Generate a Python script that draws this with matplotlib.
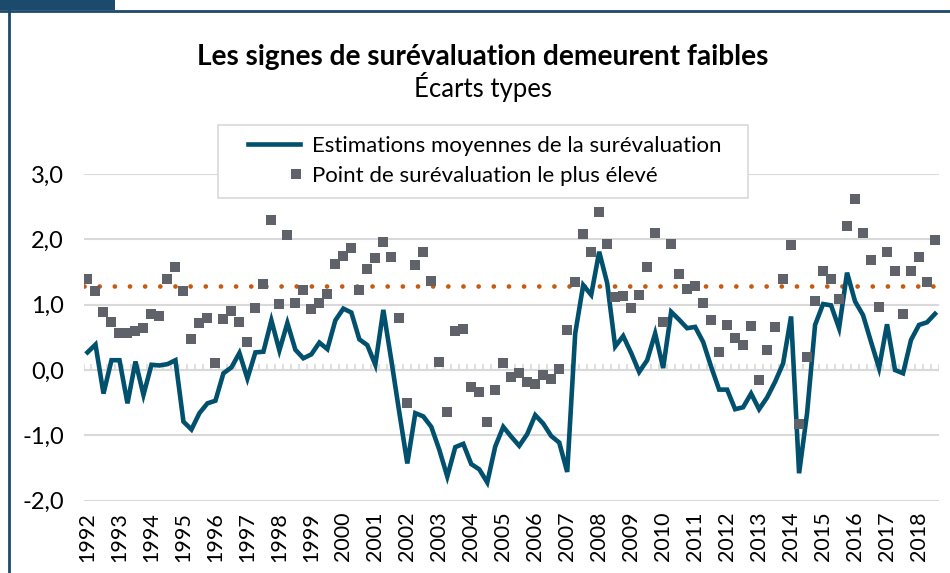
import numpy as np
import matplotlib
matplotlib.use('Agg')
from matplotlib import pyplot as plt
from matplotlib.lines import Line2D
from matplotlib.patches import Rectangle
from matplotlib.legend_handler import HandlerBase

plt.rcParams['font.family'] = ['Lato', 'DejaVu Sans']

# trimestres 1992T1 - 2018T3
quarters = ['%dT%d' % (y, q) for y in range(1992, 2019) for q in range(1, 5)][:107]
year_labels = [str(y) for y in range(1992, 2019)]

# estimations moyennes de la surévaluation (écarts types)
moyenne = [0.27, 0.39, -0.36, 0.15, 0.15, -0.51, 0.13, -0.38, 0.08, 0.07,
           0.09, 0.15, -0.79, -0.91, -0.66, -0.51, -0.47, -0.05, 0.04, 0.26,
           -0.13, 0.27, 0.28, 0.76, 0.30, 0.72, 0.31, 0.18, 0.24, 0.42,
           0.32, 0.76, 0.94, 0.88, 0.47, 0.38, 0.08, 0.92, 0.15, -0.65,
           -1.43, -0.66, -0.71, -0.87, -1.22, -1.63, -1.18, -1.13, -1.44, -1.52,
           -1.72, -1.17, -0.87, -1.02, -1.16, -0.98, -0.69, -0.82, -1.01, -1.11,
           -1.56, 0.56, 1.30, 1.15, 1.81, 1.33, 0.36, 0.52, 0.26, -0.03,
           0.15, 0.56, 0.03, 0.89, 0.77, 0.64, 0.66, 0.43, 0.05, -0.30,
           -0.30, -0.60, -0.57, -0.36, -0.60, -0.42, -0.18, 0.10, 0.82, -1.58,
           -0.66, 0.69, 1.01, 0.99, 0.64, 1.49, 1.05, 0.84, 0.43, 0.03,
           0.70, 0.00, -0.05, 0.46, 0.69, 0.73, 0.86]

# point de surévaluation le plus élevé
maximum = [1.39, 1.21, 0.89, 0.74, 0.56, 0.56, 0.59, 0.65, 0.86, 0.82,
           1.39, 1.57, 1.21, 0.48, 0.72, 0.80, 0.10, 0.78, 0.91, 0.74,
           0.43, 0.95, 1.32, 2.30, 1.01, 2.07, 1.03, 1.23, 0.93, 1.03,
           1.17, 1.63, 1.75, 1.86, 1.23, 1.55, 1.72, 1.96, 1.73, 0.80,
           -0.50, 1.60, 1.80, 1.37, 0.13, -0.65, 0.59, 0.63, -0.26, -0.33,
           -0.79, -0.31, 0.10, -0.10, -0.04, -0.19, -0.21, -0.08, -0.13, 0.01,
           0.61, 1.35, 2.08, 1.80, 2.42, 1.93, 1.11, 1.14, 0.95, 1.15,
           1.57, 2.10, 0.74, 1.93, 1.47, 1.24, 1.28, 1.03, 0.76, 0.28,
           0.69, 0.49, 0.39, 0.68, -0.16, 0.30, 0.66, 1.39, 1.91, -0.82,
           0.20, 1.05, 1.52, 1.39, 1.09, 2.21, 2.62, 2.09, 1.69, 0.97,
           1.81, 1.51, 0.86, 1.52, 1.73, 1.34, 1.99]

seuil = 1.28
y_ticks = [-2, -1, 0, 1, 2, 3]
y_labels = ['-2,0', '-1,0', '0,0', '1,0', '2,0', '3,0']

navy = '#1c4a6c'
teal = '#00506e'
grey = '#5f6369'
orange = '#c55a11'
grid_c = '#d9d9d9'


class RightMarker(HandlerBase):
    # carré placé à droite de la zone du symbole, comme dans Excel
    def create_artists(self, legend, orig_handle, xdescent, ydescent,
                       width, height, fontsize, trans):
        m = Line2D([-xdescent + width - 3], [(height - ydescent) / 2],
                   marker='s', ls='none', color=grey, ms=6.5, mew=0, transform=trans)
        return [m]


def main():
    fig = plt.figure(figsize=(9.5, 5.73), dpi=100)
    ax = fig.add_axes([83.5 / 950, 1 - 500.7 / 573, (939 - 83.5) / 950, (500.7 - 174) / 573])

    x = np.arange(len(quarters))
    ax.axhline(seuil, color=orange, lw=3.4, linestyle=(0, (0.01, 3.2)),
               dash_capstyle='round', zorder=2)
    ax.plot(x, moyenne, color=teal, lw=3.3, solid_joinstyle='miter', zorder=3)
    ax.plot(x, maximum, 's', ls='none', color=grey, ms=6.5, mew=0, zorder=4)

    ax.set_xlim(-0.5, len(quarters) - 0.5)
    ax.set_ylim(-2, 3)
    ax.set_yticks(y_ticks)
    ax.set_yticklabels(y_labels)
    ax.yaxis.grid(True, color=grid_c, lw=1.5)
    ax.set_axisbelow(True)
    for s in ax.spines.values():
        s.set_visible(False)

    # petites graduations sur l'axe zéro
    ax.axhline(0, color=grid_c, lw=1.5, zorder=1)
    ax.vlines(np.arange(-0.5, len(quarters), 1), 0, 0.09, color=grid_c, lw=1.2, zorder=1)

    ax.set_xticks(x[::4])
    ax.set_xticklabels(year_labels, rotation=90)
    ax.tick_params(axis='x', length=0, pad=8, labelsize=15.5)
    ax.tick_params(axis='y', length=0, pad=14, labelsize=17)

    # légende : cadre dessiné à part
    fig.add_artist(Rectangle((218 / 950, 1 - 198 / 573), (748 - 218) / 950, 73 / 573,
                             transform=fig.transFigure, facecolor='white',
                             edgecolor=grid_c, lw=1.2, zorder=5))
    h_line = Line2D([], [], color=teal, lw=3.3)
    h_pt = Line2D([], [], marker='s', ls='none', color=grey, ms=6.5, mew=0)
    leg = fig.legend([h_line, h_pt],
                     ['Estimations moyennes de la surévaluation',
                      'Point de surévaluation le plus élevé'],
                     loc='upper left', bbox_to_anchor=(248 / 950, 1 - 136 / 573),
                     fontsize=16, frameon=False, handler_map={h_pt: RightMarker()},
                     handlelength=2.35, handletextpad=0.55, borderpad=0,
                     labelspacing=0.45, borderaxespad=0)
    leg.set_zorder(6)

    fig.text(483 / 950, 1 - 57 / 573, 'Les signes de surévaluation demeurent faibles',
             ha='center', va='center', fontsize=20.2, weight='bold')
    fig.text(483 / 950, 1 - 87 / 573, 'Écarts types', ha='center', va='center', fontsize=18.5)

    # cadre
    fig.add_artist(Rectangle((0, 1 - 10 / 573), 115 / 950, 10 / 573, color=navy,
                             transform=fig.transFigure, lw=0))
    fig.add_artist(Line2D([0, 1], [1 - 11 / 573, 1 - 11 / 573], color=navy, lw=2,
                          transform=fig.transFigure))
    fig.add_artist(Line2D([8.5 / 950, 8.5 / 950], [0, 1 - 11 / 573], color=navy, lw=2,
                          transform=fig.transFigure))

    fig.savefig('out.png', dpi=100)


if __name__ == '__main__':
    main()
